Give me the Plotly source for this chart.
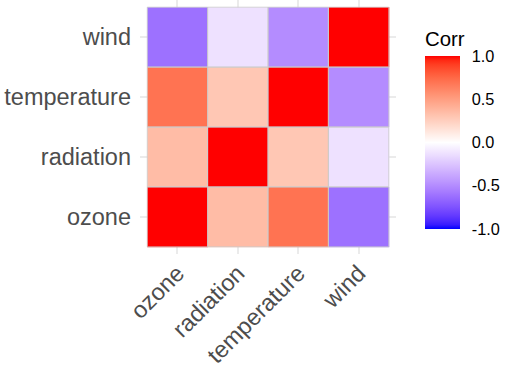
import plotly.graph_objects as go
import numpy as np

# ---- data ----
variables = ["ozone", "radiation", "temperature", "wind"]
corr_ozone = [1.0, 0.348, 0.698, -0.613]
corr_radiation = [0.348, 1.0, 0.294, -0.127]
corr_temperature = [0.698, 0.294, 1.0, -0.497]
corr_wind = [-0.613, -0.127, -0.497, 1.0]
colorbar_ticks = [-1.0, -0.5, 0.0, 0.5, 1.0]

z = [corr_ozone, corr_radiation, corr_temperature, corr_wind]  # rows = y (bottom->top)

# ---- Lab-interpolated gradient2 (blue - white - red) ----
def srgb_to_lin(c):
    c = c / 255.0
    return np.where(c <= 0.04045, c / 12.92, ((c + 0.055) / 1.055) ** 2.4)

def lin_to_srgb(c):
    c = np.clip(c, 0, 1)
    return np.where(c <= 0.0031308, 12.92 * c, 1.055 * c ** (1 / 2.4) - 0.055) * 255

M = np.array([[0.4124, 0.3576, 0.1805], [0.2126, 0.7152, 0.0722], [0.0193, 0.1192, 0.9505]])
Minv = np.linalg.inv(M)
WHITE = np.array([0.95047, 1.0, 1.08883])

def f(t):
    return np.where(t > (6 / 29) ** 3, np.cbrt(t), t / (3 * (6 / 29) ** 2) + 4 / 29)

def finv(t):
    return np.where(t > 6 / 29, t ** 3, 3 * (6 / 29) ** 2 * (t - 4 / 29))

def rgb_to_lab(rgb):
    xyz = M @ srgb_to_lin(np.array(rgb, float)) / WHITE
    fx, fy, fz = f(xyz)
    return np.array([116 * fy - 16, 500 * (fx - fy), 200 * (fy - fz)])

def lab_to_rgb(lab):
    L, a, b = lab
    fy = (L + 16) / 116
    fx = fy + a / 500
    fz = fy - b / 200
    xyz = finv(np.array([fx, fy, fz])) * WHITE
    return lin_to_srgb(Minv @ xyz)

lab_blue = rgb_to_lab([0, 0, 255])
lab_white = rgb_to_lab([255, 255, 255])
lab_red = rgb_to_lab([255, 0, 0])

colorscale = []
for s in np.linspace(0, 1, 41):
    v = 2 * s - 1
    if v < 0:
        lab = lab_white + (lab_blue - lab_white) * (-v)
    else:
        lab = lab_white + (lab_red - lab_white) * v
    r, g, b = lab_to_rgb(lab)
    colorscale.append([float(s), f"rgb({int(round(r))},{int(round(g))},{int(round(b))})"])

font_family = "Liberation Sans, Arial, Helvetica, sans-serif"

fig = go.Figure()
fig.add_trace(go.Heatmap(
    x=variables, y=variables, z=z,
    zmin=-1, zmax=1, colorscale=colorscale,
    colorbar=dict(
        xref="container", x=425 / 510, xanchor="left",
        yref="container", y=(373 - 82) / 373, yanchor="top",
        lenmode="pixels", len=173, thickness=35, thicknessmode="pixels",
        outlinewidth=0,
        tickvals=colorbar_ticks, ticktext=[f"{t:.1f}" for t in colorbar_ticks],
        ticks="outside", ticklen=9, tickcolor="rgba(0,0,0,0)", tickwidth=1,
        tickfont=dict(size=16.3, color="black", family=font_family),
        ypad=0, xpad=0,
    ),
))

# tile borders
for i in range(len(variables)):
    for j in range(len(variables)):
        fig.add_shape(type="rect", xref="x", yref="y",
                      x0=j - 0.5, x1=j + 0.5, y0=i - 0.5, y1=i + 0.5,
                      line=dict(color="#CCCCCC", width=0.8), fillcolor="rgba(0,0,0,0)", layer="above")

fig.add_annotation(text="Corr", xref="paper", yref="paper", x=(423 - 140) / 256, y=(254 - 52) / 254,
                   xanchor="left", yanchor="bottom", showarrow=False,
                   font=dict(size=20.4, color="black", family=font_family))

fig.update_layout(
    width=510, height=373,
    margin=dict(l=140, r=114, t=0, b=119, autoexpand=False),
    paper_bgcolor="white", plot_bgcolor="white",
    font=dict(family=font_family),
    xaxis=dict(type="category", range=[-0.62, 3.62], showgrid=True, gridcolor="#EBEBEB", gridwidth=1.5,
               zeroline=False, showline=False, ticks="", tickangle=-45, automargin=False,
               tickfont=dict(size=23.5, color="#4D4D4D")),
    yaxis=dict(type="category", range=[-0.62, 3.62], showgrid=True, gridcolor="#EBEBEB", gridwidth=1.5,
               zeroline=False, showline=False, ticks="", ticklabelstandoff=8, automargin=False,
               tickfont=dict(size=23.5, color="#4D4D4D")),
)

fig.write_html("out.html", config={"displayModeBar": False},
               post_script="document.body.style.margin='0';document.body.style.padding='0';")
